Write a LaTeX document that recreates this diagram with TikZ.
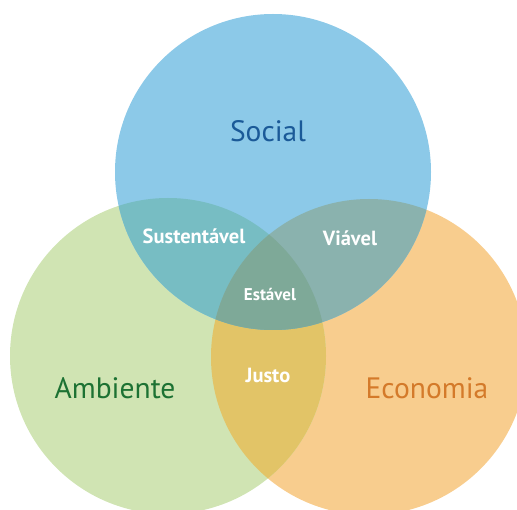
\documentclass[tikz,border=0pt]{standalone}
\usepackage{fontspec}
\setmainfont{PT Sans}
\definecolor{socialblue}{HTML}{8CC9E8}
\definecolor{ambgreen}{HTML}{D0E4B3}
\definecolor{ecoorange}{HTML}{F8CD8E}
\definecolor{sabl}{HTML}{77BDC3}
\definecolor{seor}{HTML}{8AB2AE}
\definecolor{aeye}{HTML}{E2C467}
\definecolor{allmix}{HTML}{7EA998}
\definecolor{socialtxt}{HTML}{1B5A98}
\definecolor{ambtxt}{HTML}{1D7233}
\definecolor{ecotxt}{HTML}{D47A2A}
\tikzset{
  bigtitle/.style={font=\fontsize{29.5}{34}\selectfont, inner sep=0pt, anchor=center},
  zonelabel/.style={font=\fontsize{20.5}{24}\selectfont\bfseries, text=white, inner sep=0pt, anchor=center},
  smallzone/.style={zonelabel, font=\fontsize{17}{20}\selectfont\bfseries},
}
\begin{document}
\begin{tikzpicture}[x=1pt,y=-1pt]
\useasboundingbox (0,0) rectangle (517,510);
\begin{scope}
\clip (0,0) rectangle (517,510);
% the three circles
\fill[ecoorange] (369,357) circle (158);
\fill[ambgreen] (168,356) circle (158);
\fill[socialblue] (273,172) circle (158);
% pairwise overlaps
\begin{scope}
  \clip (168,356) circle (158);
  \fill[aeye] (369,357) circle (158);
\end{scope}
\begin{scope}
  \clip (273,172) circle (158);
  \fill[sabl] (168,356) circle (158);
  \fill[seor] (369,357) circle (158);
\end{scope}
% centre where all three meet
\begin{scope}
  \clip (273,172) circle (158);
  \clip (168,356) circle (158);
  \fill[allmix] (369,357) circle (158);
\end{scope}
\end{scope}
% circle names
\node[bigtitle, text=socialtxt] (social) at (268,131) {Social};
\node[bigtitle, text=ambtxt] (ambiente) at (115,388) {Ambiente};
\node[bigtitle, text=ecotxt] (economia) at (427,388) {Economia};
% overlap names
\node[zonelabel] (sustentavel) at (194,236) {Sustentável};
\node[zonelabel] (viavel) at (350,238) {Viável};
\node[smallzone] (estavel) at (270,295) {Estável};
\node[zonelabel] (justo) at (268,375) {Justo};
\end{tikzpicture}
\end{document}
